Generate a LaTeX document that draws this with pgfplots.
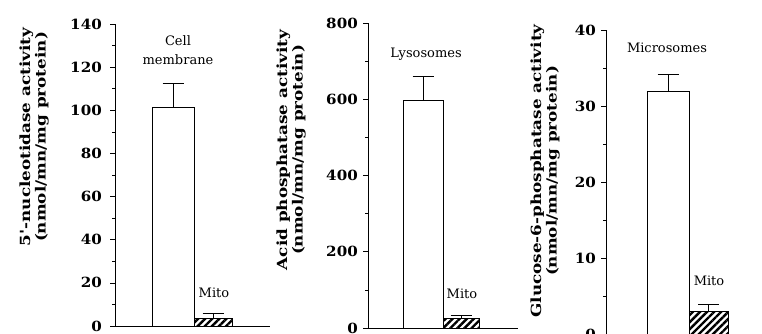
\documentclass[border=0pt]{standalone}
\usepackage{pgfplots}
\pgfplotsset{compat=1.18}
\usepackage{fontspec}
\setmainfont{DejaVu Serif}
\newfontfamily\widefont{DejaVu Serif}[FakeStretch=1.2]
\newfontfamily\tickfam{DejaVu Serif}[FakeStretch=1.08]
\usetikzlibrary{patterns.meta}

\newcommand{\ticfont}{\tickfam\fontsize{14}{16}\selectfont\bfseries}
\newcommand{\ylabfont}{\widefont\fontsize{14}{15.5}\selectfont\bfseries}
\newcommand{\smallfont}{\fontsize{13}{15}\selectfont}

\pgfplotsset{
  panel/.style={
    scale only axis, anchor=south west,
    axis x line=bottom, axis y line=left,
    x axis line style={-}, y axis line style={-},
    xmin=0, ymin=0,
    xtick=\empty,
    tick align=outside, ytick pos=left,
    major tick length=5pt, minor tick length=3pt,
    minor y tick num=1,
    tick style={black, line width=0.7pt},
    axis line style={line width=0.8pt},
    /pgf/number format/assume math mode=true,
    yticklabel style={font=\ticfont, inner xsep=0pt, xshift=-5pt},
    clip=false,
  },
  errs/.style={
    error bars/y dir=plus, error bars/y explicit,
    error bars/error bar style={line width=0.8pt, black},
    error bars/error mark options={black, line width=0.8pt, mark size=10.5pt, rotate=90}},
  bigbar/.style={ybar, bar shift=0pt, draw=black, fill=white, line width=0.8pt, errs},
  mitobar/.style={ybar, bar shift=0pt, draw=black, line width=0.8pt,
    pattern={Lines[angle=45,distance=5pt,line width=2.4pt]}, pattern color=black, errs},
}

\begin{document}
\begin{tikzpicture}[x=1pt,y=1pt]
% Panel 1
\begin{axis}[panel, at={(115pt,7pt)}, width=155pt, height=302pt,
  xmax=155, ymax=140, ytick={0,20,...,140},
  yticklabel style={xshift=-3pt}]
\addplot[bigbar, bar width=42] coordinates {(58,101.3) +- (0,11)};
\addplot[mitobar, bar width=38] coordinates {(98,3.5) +- (0,2.5)};
\end{axis}
% Panel 2
\begin{axis}[panel, at={(368pt,5pt)}, width=150pt, height=305pt,
  xmax=150, ymax=800, ytick={0,200,...,800}]
\addplot[bigbar, bar width=40] coordinates {(55,597) +- (0,63)};
\addplot[mitobar, bar width=36] coordinates {(93,25) +- (0,9)};
\end{axis}
% Panel 3
\begin{axis}[panel, at={(606pt,-1pt)}, width=156pt, height=304pt,
  xmax=156, ymax=40, ytick={0,10,...,40}]
\addplot[bigbar, bar width=42] coordinates {(62,31.9) +- (0,2.2)};
\addplot[mitobar, bar width=39] coordinates {(102.5,3.0) +- (0,0.9)};
\end{axis}

% y labels
\node[rotate=90, align=center, font=\ylabfont] at (34,196) {5'-nucleotidase activity\\(nmol/mn/mg protein)};
\node[rotate=90, align=center, font=\ylabfont] at (291,183) {Acid phosphatase activity\\(nmol/mn/mg protein)};
\node[rotate=90, align=center, font=\ylabfont] at (545,162) {Glucose-6-phosphatase activity\\(nmol/mn/mg protein)};

% bar labels
\node[anchor=base, font=\smallfont] at (178,288) {Cell};
\node[anchor=base, font=\smallfont] at (178,269) {membrane};
\node[anchor=base, font=\smallfont] at (214,36) {Mito};
\node[anchor=base, font=\smallfont] at (426,276) {Lysosomes};
\node[anchor=base, font=\smallfont] at (462,35) {Mito};
\node[anchor=base, font=\smallfont] at (667,281) {Microsomes};
\node[anchor=base, font=\smallfont] at (709,48) {Mito};

\pgfresetboundingbox
\useasboundingbox (0,0) rectangle (762,333);
\end{tikzpicture}
\end{document}
